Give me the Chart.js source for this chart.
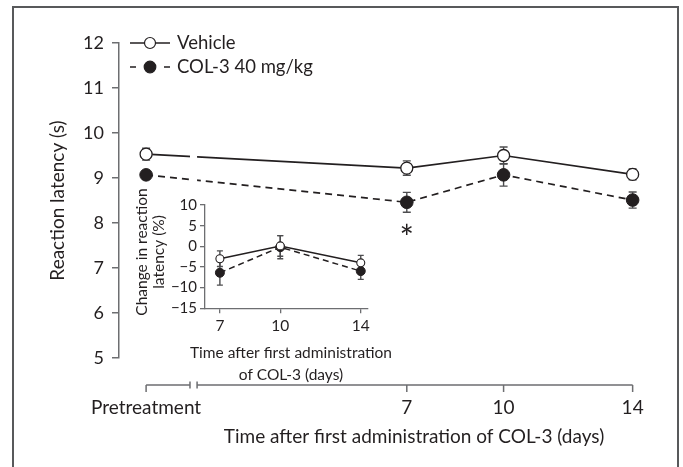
<!DOCTYPE html>
<html>
<head>
<meta charset="utf-8">
<script src="https://cdn.jsdelivr.net/npm/chart.js@4.4.1/dist/chart.umd.min.js"></script>
<style>
  html, body { margin: 0; padding: 0; background: #fff; }
  #wrap { position: relative; width: 683px; height: 467px; overflow: hidden; }
  #main { position: absolute; left: 0; top: 0; }
  #inset { position: absolute; left: 120px; top: 180px; }
</style>
</head>
<body>
<div id="wrap">
  <canvas id="main" width="683" height="467"></canvas>
  <canvas id="inset" width="300" height="210"></canvas>
</div>
<script>
// main panel: reaction latency (s), mean ± SEM
const DAY_LABELS = ["Pretreatment", "7", "10", "14"];
const DAY_X = [-1.08, 7, 10, 14];
const VEHICLE = [9.53, 9.22, 9.5, 9.08];
const VEHICLE_SEM = [0.13, 0.16, 0.19, 0.12];
const COL3 = [9.07, 8.46, 9.07, 8.51];
const COL3_SEM = [0.08, 0.22, 0.25, 0.18];
const Y_TICKS = [5, 6, 7, 8, 9, 10, 11, 12];
const BREAK_DAYS = [0.28, 0.5];
const SIG_INDEX = 1; // the asterisk sits under day 7

// inset: change in reaction latency (%)
const INSET_DAYS = [7, 10, 14];
const INSET_VEHICLE = [-3.0, 0.1, -4.0];
const INSET_VEHICLE_SEM = [1.9, 2.5, 1.8];
const INSET_COL3 = [-6.4, -0.2, -6.0];
const INSET_COL3_SEM = [3.0, 2.8, 2.0];
const INSET_Y_TICKS = [-15, -10, -5, 0, 5, 10];
const INSET_X_TITLE = ["Time after first administration", "of COL-3 (days)"];
const INSET_Y_TITLE = ["Change in reaction", "latency (%)"];

const INK = "#231f20";
const AXIS = "#6d6e71";
const BAR = "#4d4d4f";
const FONT = "Lato, 'Open Sans', sans-serif";

function points(xs, ys) {
  return xs.map((x, i) => ({ x, y: ys[i] }));
}

const errorBars = {
  id: "errorBars",
  beforeDatasetsDraw(chart) {
    const { ctx } = chart;
    const yScale = chart.scales.y;
    chart.data.datasets.forEach((ds, i) => {
      if (!ds.sem) return;
      const meta = chart.getDatasetMeta(i);
      ctx.save();
      ctx.strokeStyle = BAR;
      ctx.lineWidth = 1.4;
      ctx.beginPath();
      meta.data.forEach((pt, j) => {
        const v = ds.data[j].y;
        const top = yScale.getPixelForValue(v + ds.sem[j]);
        const bot = yScale.getPixelForValue(v - ds.sem[j]);
        const w = ds.capWidth;
        ctx.moveTo(pt.x, top); ctx.lineTo(pt.x, bot);
        ctx.moveTo(pt.x - w, top); ctx.lineTo(pt.x + w, top);
        ctx.moveTo(pt.x - w, bot); ctx.lineTo(pt.x + w, bot);
      });
      ctx.stroke();
      ctx.restore();
    });
  },
};

// leave a gap in the lines where the time axis is broken
const axisBreak = {
  id: "axisBreak",
  beforeDatasetsDraw(chart) {
    const { ctx, width, height } = chart;
    const x = chart.scales.x;
    const a = x.getPixelForValue(BREAK_DAYS[0]);
    const b = x.getPixelForValue(BREAK_DAYS[1]);
    ctx.save();
    ctx.beginPath();
    ctx.rect(0, 0, a, height);
    ctx.rect(b, 0, width - b, height);
    ctx.clip();
  },
  afterDatasetsDraw(chart) {
    chart.ctx.restore();
  },
};

function legendRow(ctx, y, ds) {
  ctx.save();
  ctx.strokeStyle = INK;
  ctx.lineWidth = 1.5;
  ctx.beginPath();
  if (ds.borderDash) {
    ctx.moveTo(130, y); ctx.lineTo(136, y);
    ctx.moveTo(164, y); ctx.lineTo(170, y);
  } else {
    ctx.moveTo(130, y); ctx.lineTo(170, y);
  }
  ctx.stroke();
  ctx.beginPath();
  ctx.arc(150, y, ds.pointRadius - 0.5, 0, Math.PI * 2);
  ctx.fillStyle = ds.pointBackgroundColor;
  ctx.fill();
  ctx.lineWidth = 1.2;
  ctx.stroke();
  ctx.fillStyle = INK;
  ctx.font = `18.5px ${FONT}`;
  ctx.textBaseline = "middle";
  ctx.textAlign = "left";
  ctx.fillText(ds.label, 177, y);
  ctx.restore();
}

const mainDecor = {
  id: "mainDecor",
  afterDraw(chart) {
    const { ctx } = chart;
    const x = chart.scales.x;
    const y = chart.scales.y;
    const px = (v) => x.getPixelForValue(v);
    const axisY = chart.chartArea.bottom + 27;

    ctx.save();
    ctx.strokeStyle = AXIS;
    ctx.lineWidth = 1.5;
    ctx.beginPath();
    ctx.moveTo(px(DAY_X[0]), axisY); ctx.lineTo(px(BREAK_DAYS[0]), axisY);
    ctx.moveTo(px(BREAK_DAYS[1]), axisY); ctx.lineTo(px(DAY_X[DAY_X.length - 1]), axisY);
    BREAK_DAYS.forEach((d) => { ctx.moveTo(px(d), axisY - 3.5); ctx.lineTo(px(d), axisY + 3.5); });
    DAY_X.forEach((d) => { ctx.moveTo(px(d), axisY); ctx.lineTo(px(d), axisY + 7); });
    ctx.stroke();

    ctx.fillStyle = INK;
    ctx.font = `19px ${FONT}`;
    ctx.textAlign = "center";
    ctx.textBaseline = "middle";
    ctx.fillText("Time after first administration of COL-3 (days)", 414, 437);

    // significance mark
    ctx.font = `34px ${FONT}`;
    const sx = px(DAY_X[SIG_INDEX]);
    const sy = y.getPixelForValue(COL3[SIG_INDEX] - COL3_SEM[SIG_INDEX]) + 27;
    ctx.fillText("*", sx, sy);

    const ds = chart.data.datasets;
    legendRow(ctx, 43, ds[0]);
    legendRow(ctx, 67, ds[1]);

    ctx.strokeStyle = "#58595b";
    ctx.lineWidth = 2;
    ctx.strokeRect(13, 7, 665, 470);
    ctx.restore();
  },
};

// inset axis titles are wider than the inset plot, so Chart.js would squeeze them
const insetTitles = {
  id: "insetTitles",
  afterDraw(chart) {
    const { ctx } = chart;
    ctx.save();
    ctx.fillStyle = INK;
    ctx.font = `15.5px ${FONT}`;
    ctx.textAlign = "center";
    ctx.textBaseline = "middle";
    INSET_X_TITLE.forEach((t, i) => ctx.fillText(t, 171, 172.5 + i * 22));
    ctx.translate(0, 72);
    ctx.rotate(-Math.PI / 2);
    INSET_Y_TITLE.forEach((t, i) => ctx.fillText(t, 0, 21.7 + i * 17.5));
    ctx.restore();
  },
};

new Chart(document.getElementById("main"), {
  type: "line",
  data: {
    datasets: [
      {
        label: "Vehicle",
        data: points(DAY_X, VEHICLE),
        sem: VEHICLE_SEM,
        capWidth: 4,
        borderColor: INK,
        borderWidth: 1.7,
        pointRadius: 6,
        pointBackgroundColor: "#fff",
        pointBorderColor: INK,
        pointBorderWidth: 1.3,
      },
      {
        label: "COL-3 40 mg/kg",
        data: points(DAY_X, COL3),
        sem: COL3_SEM,
        capWidth: 4,
        borderColor: INK,
        borderWidth: 1.7,
        borderDash: [7, 5],
        pointRadius: 6.3,
        pointBackgroundColor: INK,
        pointBorderColor: INK,
        pointBorderWidth: 1,
      },
    ],
  },
  options: {
    responsive: false,
    animation: false,
    events: [],
    layout: { padding: { top: 43, right: 31, left: 0, bottom: 0 } },
    plugins: { legend: { display: false }, tooltip: { enabled: false } },
    scales: {
      x: {
        type: "linear",
        min: -1.92,
        max: 14.6,
        afterBuildTicks: (s) => { s.ticks = DAY_X.map((v) => ({ value: v })); },
        afterFit: (s) => { s.height = 109; },
        grid: { display: false, drawTicks: false },
        border: { display: false },
        ticks: {
          autoSkip: false,
          maxRotation: 0,
          padding: 38,
          color: INK,
          font: { family: FONT, size: 19 },
          callback: (v) => DAY_LABELS[DAY_X.indexOf(v)],
        },
      },
      y: {
        min: Y_TICKS[0],
        max: Y_TICKS[Y_TICKS.length - 1],
        afterBuildTicks: (s) => { s.ticks = Y_TICKS.map((v) => ({ value: v })); },
        afterFit: (s) => { s.width = 119; },
        grid: { drawOnChartArea: false, color: AXIS, lineWidth: 1.5, tickLength: 7 },
        border: { color: AXIS, width: 1.5 },
        ticks: { autoSkip: false, padding: 8, color: INK, font: { family: FONT, size: 18 } },
        title: {
          display: true,
          text: "Reaction latency (s)",
          color: INK,
          font: { family: FONT, size: 19 },
          padding: { top: 46, bottom: 0 },
        },
      },
    },
  },
  plugins: [errorBars, axisBreak, mainDecor],
});

new Chart(document.getElementById("inset"), {
  type: "line",
  data: {
    datasets: [
      {
        label: "Vehicle",
        data: points(INSET_DAYS, INSET_VEHICLE),
        sem: INSET_VEHICLE_SEM,
        capWidth: 3,
        borderColor: INK,
        borderWidth: 1.5,
        pointRadius: 4,
        pointBackgroundColor: "#fff",
        pointBorderColor: INK,
        pointBorderWidth: 1.1,
      },
      {
        label: "COL-3 40 mg/kg",
        data: points(INSET_DAYS, INSET_COL3),
        sem: INSET_COL3_SEM,
        capWidth: 3,
        borderColor: INK,
        borderWidth: 1.5,
        borderDash: [6, 4],
        pointRadius: 4.5,
        pointBackgroundColor: INK,
        pointBorderColor: INK,
        pointBorderWidth: 1,
      },
    ],
  },
  options: {
    responsive: false,
    animation: false,
    events: [],
    layout: { padding: { top: 25, right: 52, left: 0, bottom: 0 } },
    plugins: { legend: { display: false }, tooltip: { enabled: false } },
    scales: {
      x: {
        type: "linear",
        min: 6.26,
        max: 14.36,
        afterBuildTicks: (s) => { s.ticks = INSET_DAYS.map((v) => ({ value: v })); },
        afterFit: (s) => { s.height = 81.7; },
        grid: { drawOnChartArea: false, color: AXIS, lineWidth: 1.3, tickLength: 5 },
        border: { color: AXIS, width: 1.3 },
        ticks: { autoSkip: false, maxRotation: 0, padding: 3, color: INK, font: { family: FONT, size: 15.5 } },
      },
      y: {
        min: INSET_Y_TICKS[0],
        max: INSET_Y_TICKS[INSET_Y_TICKS.length - 1],
        afterBuildTicks: (s) => { s.ticks = INSET_Y_TICKS.map((v) => ({ value: v })); },
        afterFit: (s) => { s.width = 85; },
        grid: { drawOnChartArea: false, color: AXIS, lineWidth: 1.3, tickLength: 5 },
        border: { color: AXIS, width: 1.3 },
        ticks: {
          autoSkip: false,
          padding: 3,
          color: INK,
          font: { family: FONT, size: 15 },
          callback: (v) => (v < 0 ? "\u2212" + Math.abs(v) : String(v)),
        },
      },
    },
  },
  plugins: [errorBars, insetTitles],
});
</script>
</body>
</html>
